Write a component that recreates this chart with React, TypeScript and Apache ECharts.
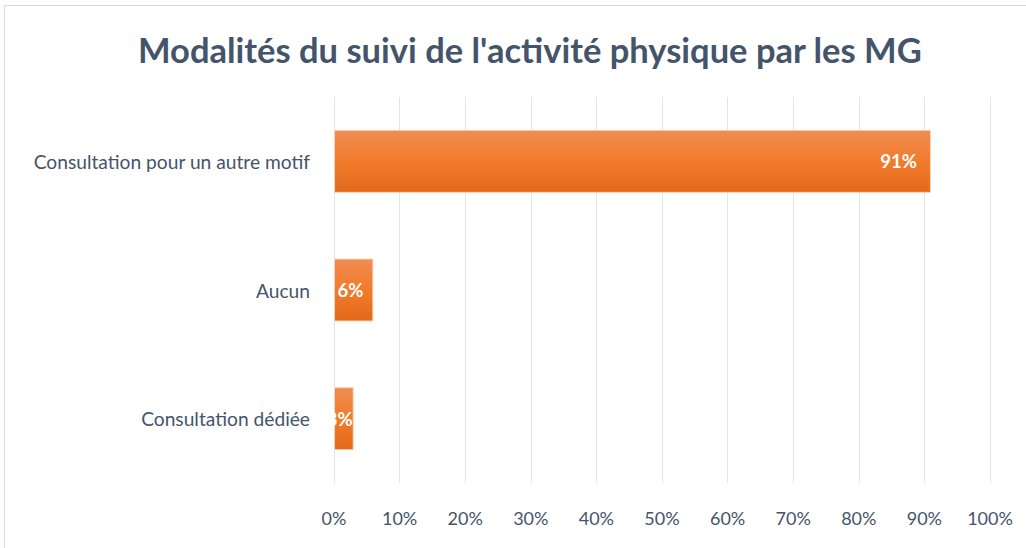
import React, { useEffect, useRef } from "react";
import * as echarts from "echarts";

const categories = ["Consultation dédiée", "Aucun", "Consultation pour un autre motif"];
const values = [3, 6, 91];
const labelDistances = [1, 10, 14];
const xTicks = [0, 10, 20, 30, 40, 50, 60, 70, 80, 90, 100];
const title = "Modalités du suivi de l'activité physique par les MG";

export default function App() {
  const ref = useRef<HTMLDivElement>(null);
  useEffect(() => {
    const chart = echarts.init(ref.current!, null, { renderer: "svg" });
    const font = "Lato, 'Open Sans', sans-serif";
    chart.setOption({
      animation: false,
      backgroundColor: "#ffffff",
      title: {
        text: title,
        left: 133,
        top: 27,
        textStyle: { fontFamily: font, fontSize: 34.5, fontWeight: "bold", color: "#44546A" },
      },
      graphic: [
        {
          type: "rect",
          shape: { x: 4.5, y: 5.5, width: 1040, height: 560 },
          style: { fill: "none", stroke: "#d9d9d9", lineWidth: 1 },
          silent: true,
        },
      ],
      grid: { left: 334, right: 36, top: 97, bottom: 65, containLabel: false },
      xAxis: {
        type: "value",
        min: xTicks[0],
        max: xTicks[xTicks.length - 1],
        interval: 10,
        axisLine: { show: false },
        axisTick: { show: false },
        axisLabel: {
          formatter: (v: number) => v + "%",
          fontFamily: font,
          fontSize: 18,
          color: "#44546A",
          margin: 26,
        },
        splitLine: { show: true, lineStyle: { color: "#e3e3ea", width: 1 } },
      },
      yAxis: {
        type: "category",
        data: categories,
        axisLine: { show: true, lineStyle: { color: "#e3e3ea" } },
        axisTick: { show: false },
        axisLabel: { fontFamily: font, fontSize: 19.2, color: "#44546A", margin: 24 },
      },
      series: [
        {
          type: "bar",
          data: values.map((v, i) => ({ value: v, label: { distance: labelDistances[i] } })),
          barWidth: 63,
          itemStyle: {
            color: new echarts.graphic.LinearGradient(0, 0, 0, 1, [
              { offset: 0, color: "#F08C52" },
              { offset: 0.5, color: "#F17B2C" },
              { offset: 1, color: "#E4691A" },
            ]),
            borderColor: "#F9D3BA",
            borderWidth: 1,
          },
          label: {
            show: true,
            position: "insideRight",
            formatter: (p: any) => p.value + "%",
            fontFamily: font,
            fontSize: 18.5,
            fontWeight: "bold",
            color: "#ffffff",
          },
        },
      ],
    });
    return () => chart.dispose();
  }, []);
  return (
    <div
      ref={ref}
      style={{ position: "fixed", left: 0, top: 0, width: 1026, height: 548 }}
    />
  );
}
